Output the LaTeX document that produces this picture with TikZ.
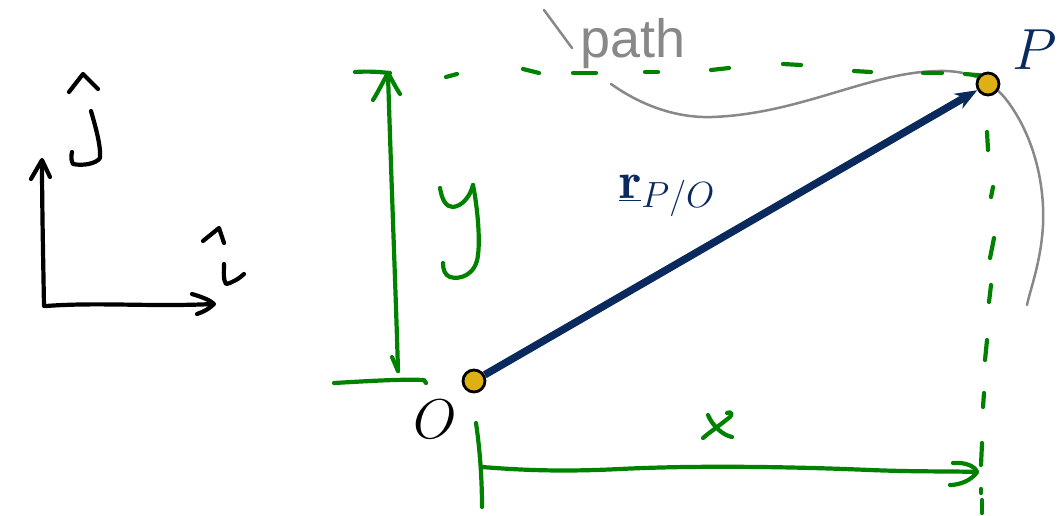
\RequirePackage{fix-cm}
\documentclass[tikz,border=0pt]{standalone}
\usepackage{fontspec}
\newfontfamily\labelsans{Liberation Sans}
\usetikzlibrary{arrows.meta}
\definecolor{navy}{RGB}{10,42,94}
\definecolor{dotyellow}{RGB}{222,176,20}
\definecolor{grn}{RGB}{0,130,0}
\definecolor{pathgray}{RGB}{136,136,136}
\begin{document}
\begin{tikzpicture}[x=1pt,y=-1pt,
  hand/.style={line width=4.2pt, line cap=round, line join=round},
  ink/.style={hand, draw=black},
  greenink/.style={hand, draw=grn},
  dashseg/.style={draw=grn, line width=4.2pt, line cap=round},
  ptdot/.style={circle, fill=dotyellow, draw=black, line width=2.8pt, minimum size=22pt, inner sep=0pt},
  vec/.style={draw=navy, line width=7.5pt, -{Stealth[length=22pt,width=17pt]}},
  curvepath/.style={draw=pathgray, line width=2.5pt, line cap=round}
]
\useasboundingbox (0,0) rectangle (1062,515);

% ---- basis vectors (left) ----
\draw[ink] (44,306) .. controls (43,250) and (42,200) .. (42,162);
\draw[ink] (31,179) -- (42,160) -- (50,177);
\draw[ink] (46,306) .. controls (100,302) and (150,307) .. (213,304);
\draw[ink] (192,294) .. controls (202,297) and (210,300) .. (214,304) .. controls (209,309) and (203,312) .. (197,314);
% j hat
\draw[ink] (69,92) -- (83,74) -- (98,89);
\draw[ink] (91,111) .. controls (95,125) and (101,145) .. (100,158) .. controls (96,164) and (82,166) .. (73,164) .. controls (71,160) and (71,156) .. (72,152);
% i hat
\draw[ink] (203,241) -- (219,228) -- (224,243);
\draw[ink] (224,264) .. controls (224,272) and (223,280) .. (226,284) .. controls (232,283) and (240,278) .. (244,274);

% ---- path curve ----
\draw[curvepath] (544,10) -- (572,48);
\draw[curvepath] (611,84) .. controls (645,108) and (680,118) .. (712,117)
  .. controls (800,114) and (870,72) .. (938,71)
  .. controls (968,70) and (990,80) .. (1005,98)
  .. controls (1032,132) and (1045,180) .. (1043,225)
  .. controls (1041,262) and (1030,290) .. (1027,305);
\node[text=pathgray, font=\labelsans\fontsize{54}{60}\selectfont, inner sep=0pt] (pathlabel) at (633,44) {path};

% ---- dashed projection lines ----
\foreach \xa/\ya/\xb/\yb in {446/77/457/74, 523/69/539/73, 573/73/596/73, 645/72/658/72,
  711/70/729/68, 783/64/801/65, 854/71/871/72, 923/73/942/73, 965/74/988/76}
  \draw[dashseg] (\xa,\ya) -- (\xb,\yb);
\foreach \xa/\ya/\xb/\yb in {987/132/988/150, 993/187/991/197, 994/238/990/258, 991/285/989/302,
  987/340/985/360, 984/393/983/407, 982/443/981/465, 981/489/981/493, 982/500/982/513}
  \draw[dashseg] (\xa,\ya) -- (\xb,\yb);

% ---- y dimension ----
\draw[greenink] (355,72) .. controls (368,71) and (380,72) .. (390,73);
\draw[greenink] (388,75) .. controls (392,200) and (396,300) .. (398,371);
\draw[greenink] (373,100) .. controls (378,92) and (384,80) .. (388,73) .. controls (392,80) and (396,88) .. (400,94);
\draw[greenink] (392,357) -- (398,371);
\draw[greenink] (334,383) .. controls (370,381) and (400,379) .. (424,380) -- (426,383);
% letter y
\draw[greenink] (440,188) .. controls (442,200) and (446,207) .. (453,207) .. controls (462,206) and (470,197) .. (473,185);
\draw[greenink] (473,185) .. controls (478,210) and (480,240) .. (478,255) .. controls (476,275) and (460,280) .. (450,277) .. controls (445,275) and (443,270) .. (443,263);

% ---- x dimension ----
\draw[greenink] (476,423) .. controls (480,450) and (482,480) .. (482,507);
\draw[greenink] (482,467) .. controls (520,470) and (560,472) .. (620,469) .. controls (700,465) and (800,467) .. (870,470) .. controls (920,472) and (950,471) .. (977,472);
\draw[greenink] (953,463) .. controls (965,462) and (975,466) .. (977,472) .. controls (972,480) and (960,485) .. (950,485);
% letter x
\draw[greenink] (708,415) .. controls (712,425) and (722,435) .. (732,437);
\draw[greenink] (727,413) .. controls (731,411) and (733,414) .. (730,417) .. controls (720,425) and (710,432) .. (703,438);

% ---- points and position vector ----
\node[ptdot] (O) at (474,381) {};
\node[ptdot] (P) at (988,84) {};
\draw[vec] (O) -- (P);

\node[font=\fontsize{56}{60}\selectfont, inner sep=0pt] (Olabel) at (435,419) {$O$};
\node[text=navy, font=\fontsize{58}{62}\selectfont, inner sep=0pt] (Plabel) at (1035,50) {$P$};
\node[text=navy, font=\fontsize{52}{60}\selectfont, inner sep=0pt] (rlabel) at (667,196) {$\underline{\mathbf{r}}_{P/O}$};
\end{tikzpicture}
\end{document}
